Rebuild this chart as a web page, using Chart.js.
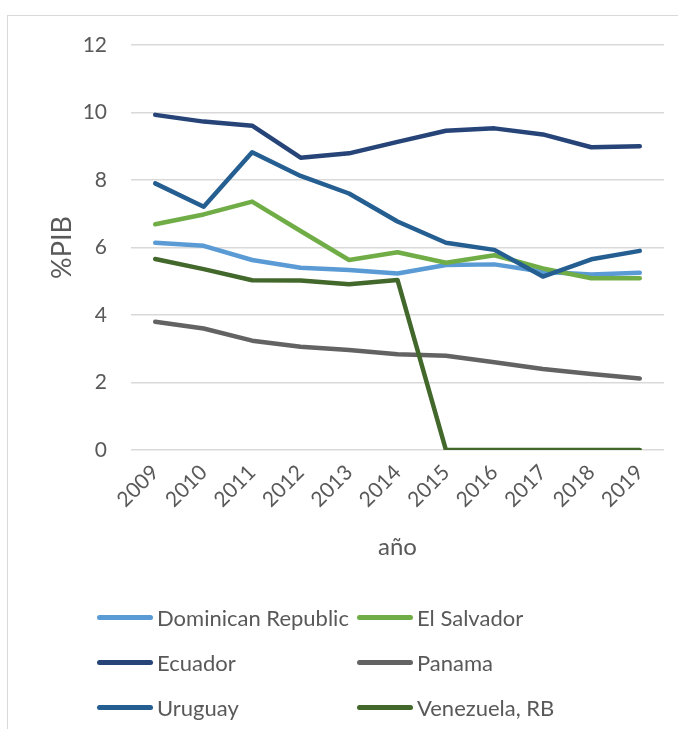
<!DOCTYPE html>
<html>
<head>
<meta charset="utf-8">
<script src="https://cdn.jsdelivr.net/npm/chart.js@4.4.1/dist/chart.umd.min.js"></script>
<style>
    body { margin: 0; background: #fff; overflow: hidden; }
    #wrap { position: relative; width: 678px; height: 729px; }
    #frame { position: absolute; left: 7px; top: 15px; width: 700px; height: 800px; border: 1px solid #d9d9d9; box-sizing: border-box; }
    canvas { position: absolute; left: 0; top: 0; }
    #legend { position: absolute; left: 0; top: 0; font-family: Lato, sans-serif; font-size: 22px; color: #595959; }
    .item { position: absolute; height: 26px; display: flex; align-items: center; white-space: nowrap; }
    .swatch { width: 56px; height: 5px; border-radius: 3px; margin-right: 4px; }
</style>
</head>
<body>
<div id="wrap">
    <div id="frame"></div>
    <canvas id="lineChart" width="678" height="729"></canvas>
    <div id="legend"></div>
</div>
<script>
const years = ['2009', '2010', '2011', '2012', '2013', '2014', '2015', '2016', '2017', '2018', '2019'];

const seriesNames = ['Dominican Republic', 'El Salvador', 'Ecuador', 'Panama', 'Uruguay', 'Venezuela, RB'];
const seriesColors = ['#5b9bd5', '#70ad47', '#264478', '#636363', '#255e91', '#43682b'];

const dominicanRepublic = [6.14, 6.05, 5.63, 5.40, 5.33, 5.23, 5.48, 5.50, 5.28, 5.20, 5.25];
const elSalvador = [6.69, 6.98, 7.36, 6.49, 5.63, 5.86, 5.55, 5.77, 5.38, 5.09, 5.09];
const ecuador = [9.93, 9.73, 9.61, 8.66, 8.79, 9.13, 9.46, 9.53, 9.35, 8.97, 9.00];
const panama = [3.80, 3.60, 3.24, 3.06, 2.96, 2.84, 2.79, 2.60, 2.40, 2.25, 2.12];
const uruguay = [7.90, 7.21, 8.82, 8.12, 7.60, 6.77, 6.14, 5.93, 5.14, 5.65, 5.90];
const venezuela = [5.66, 5.36, 5.03, 5.02, 4.91, 5.04, 0, 0, 0, 0, 0];

const seriesValues = [dominicanRepublic, elSalvador, ecuador, panama, uruguay, venezuela];

const textColor = '#595959';
const gridColor = '#d9d9d9';

const datasets = seriesNames.map((name, i) => ({
    label: name,
    data: seriesValues[i],
    borderColor: seriesColors[i],
    backgroundColor: seriesColors[i],
    borderWidth: 4.5,
    borderCapStyle: 'round',
    borderJoinStyle: 'round',
    pointRadius: 0,
    tension: 0,
    fill: false,
    order: seriesNames.length - i // later series drawn on top, like excel
}));

const ctx = document.getElementById('lineChart').getContext('2d');
const chart = new Chart(ctx, {
    type: 'line',
    data: { labels: years, datasets: datasets },
    options: {
        responsive: false,
        animation: false,
        layout: { padding: { left: 46, right: 14, top: 45, bottom: 167 } },
        plugins: {
            legend: { display: false },
            tooltip: { enabled: false }
        },
        scales: {
            x: {
                offset: true,
                grid: { display: false, drawTicks: false },
                border: { display: false },
                ticks: {
                    color: textColor,
                    font: { family: 'Lato', size: 21 },
                    minRotation: 45,
                    maxRotation: 45,
                    padding: 10
                },
                title: {
                    display: true,
                    text: 'año',
                    color: textColor,
                    font: { family: 'Lato', size: 24 },
                    padding: 0
                },
                afterFit: function(scale) { scale.height = 112; }
            },
            y: {
                min: 0,
                max: 12,
                grid: { color: gridColor, lineWidth: 1.5, drawTicks: false },
                border: { display: false },
                ticks: {
                    stepSize: 2,
                    color: textColor,
                    font: { family: 'Lato', size: 21 },
                    padding: 24
                },
                title: {
                    display: true,
                    text: '%PIB',
                    color: textColor,
                    font: { family: 'Lato', size: 27 },
                    padding: 0
                },
                afterFit: function(scale) { scale.width = 85; }
            }
        }
    }
});

// legend in two columns, three rows
const legendBox = document.getElementById('legend');
const colLeft = [97, 357];
const rowCenter = [617, 662, 707];
seriesNames.forEach((name, i) => {
    const item = document.createElement('div');
    item.className = 'item';
    item.style.left = colLeft[i % 2] + 'px';
    item.style.top = (rowCenter[Math.floor(i / 2)] - 13) + 'px';
    const sw = document.createElement('span');
    sw.className = 'swatch';
    sw.style.background = seriesColors[i];
    const txt = document.createElement('span');
    txt.textContent = name;
    item.appendChild(sw);
    item.appendChild(txt);
    legendBox.appendChild(item);
});
</script>
</body>
</html>
